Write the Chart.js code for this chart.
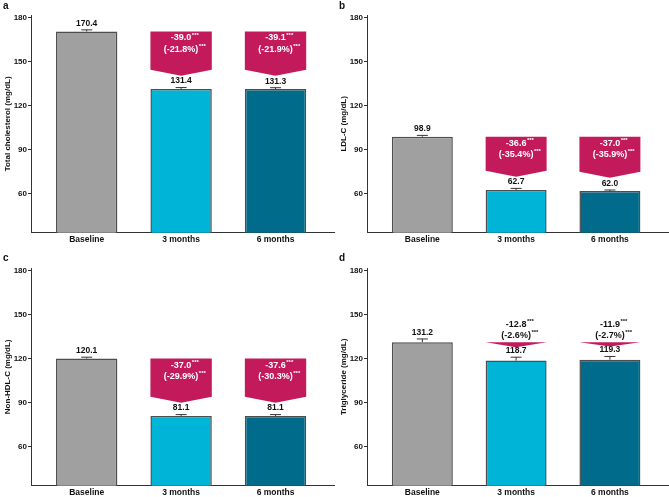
<!DOCTYPE html>
<html>
<head>
<meta charset="utf-8">
<script src="https://cdn.jsdelivr.net/npm/chart.js@4.4.0/dist/chart.umd.min.js"></script>
<style>
  html, body { margin: 0; padding: 0; background: #fff; overflow: hidden; }
  .panel { position: absolute; width: 335px; height: 250px; }
  .letter { position: absolute; font: bold 10px "Liberation Sans", Arial, sans-serif; color: #111; }
</style>
</head>
<body>
<div class="panel" style="left:0;top:0"><canvas id="chartA" width="335" height="250"></canvas></div>
<div class="panel" style="left:336px;top:0"><canvas id="chartB" width="333" height="250"></canvas></div>
<div class="panel" style="left:0;top:253px"><canvas id="chartC" width="335" height="250"></canvas></div>
<div class="panel" style="left:336px;top:253px"><canvas id="chartD" width="333" height="250"></canvas></div>
<div class="letter" style="left:3px;top:0">a</div>
<div class="letter" style="left:339px;top:0">b</div>
<div class="letter" style="left:3px;top:252px">c</div>
<div class="letter" style="left:339px;top:252px">d</div>
<script>
// Datos
const categories = ['Baseline', '3 months', '6 months'];
const yTicks = [60, 90, 120, 150, 180];

const totalCholesterol = [170.4, 131.4, 131.3];
const totalCholesterolSE = [1.1, 0.9, 0.9];
const totalCholesterolChange = ['-39.0', '-39.1'];
const totalCholesterolPct = ['-21.8%', '-21.9%'];

const ldlC = [98.9, 62.7, 62.0];
const ldlCSE = [0.9, 1.1, 0.7];
const ldlCChange = ['-36.6', '-37.0'];
const ldlCPct = ['-35.4%', '-35.9%'];

const nonHdlC = [120.1, 81.1, 81.1];
const nonHdlCSE = [0.9, 0.9, 0.9];
const nonHdlCChange = ['-37.0', '-37.6'];
const nonHdlCPct = ['-29.9%', '-30.3%'];

const triglyceride = [131.2, 118.7, 119.3];
const triglycerideSE = [2.2, 2.3, 2.2];
const triglycerideChange = ['-12.8', '-11.9'];
const triglyceridePct = ['-2.6%', '-2.7%'];

const FONT = '"Liberation Sans", Arial, sans-serif';
const barColors = ['#a0a0a0', '#00b4d8', '#006b8b'];
const magenta = '#c31a5b';

// texto con superíndice ***
function drawStarred(ctx, text, x, y, color) {
    ctx.font = 'bold 9px ' + FONT;
    ctx.fillStyle = color;
    ctx.textAlign = 'center';
    ctx.textBaseline = 'middle';
    const w = ctx.measureText(text).width;
    ctx.fillText(text, x, y);
    ctx.font = 'bold 6px ' + FONT;
    ctx.textAlign = 'left';
    ctx.fillText('***', x + w / 2 + 0.5, y - 3);
}

const barExtras = {
    id: 'barExtras',
    afterDatasetsDraw(chart) {
        const ctx = chart.ctx;
        const y = chart.scales.y;
        const p = chart.options.plugins.barExtras;
        const meta = chart.getDatasetMeta(0);
        const baseY = y.getPixelForValue(p.values[0]);

        // Flechas de cambio respecto a baseline
        [1, 2].forEach(i => {
            const bar = meta.data[i];
            const half = bar.width / 2;
            const tip = y.getPixelForValue(p.values[i] + 9);
            const shoulder = Math.max(baseY, tip - 6);
            ctx.save();
            ctx.fillStyle = magenta;
            ctx.beginPath();
            ctx.moveTo(bar.x - half, baseY);
            ctx.lineTo(bar.x + half, baseY);
            ctx.lineTo(bar.x + half, shoulder);
            ctx.lineTo(bar.x, tip);
            ctx.lineTo(bar.x - half, shoulder);
            ctx.closePath();
            ctx.fill();
            const inside = tip - baseY > 30;
            const y1 = inside ? baseY + 6.5 : baseY - 18;
            const color = inside ? '#ffffff' : '#111111';
            drawStarred(ctx, p.change[i - 1], bar.x, y1, color);
            drawStarred(ctx, '(' + p.pct[i - 1] + ')', bar.x, y1 + 11.5, color);
            ctx.restore();
        });

        // Barras de error y etiquetas de valor
        meta.data.forEach((bar, i) => {
            const v = p.values[i];
            const top = y.getPixelForValue(v + p.se[i]);
            ctx.save();
            ctx.strokeStyle = '#333';
            ctx.lineWidth = 1;
            ctx.beginPath();
            ctx.moveTo(bar.x, bar.y);
            ctx.lineTo(bar.x, top);
            ctx.moveTo(bar.x - 5.5, top);
            ctx.lineTo(bar.x + 5.5, top);
            ctx.stroke();
            ctx.font = 'bold 8.5px ' + FONT;
            ctx.fillStyle = '#111';
            ctx.textAlign = 'center';
            ctx.textBaseline = 'middle';
            ctx.fillText(v.toFixed(1), bar.x, top - 6.5);
            ctx.restore();
        });
    }
};

function drawPanel(id, title, values, se, change, pct) {
    const ctx = document.getElementById(id);
    return new Chart(ctx, {
        type: 'bar',
        data: {
            datasets: [{
                data: values.map((v, i) => ({ x: i + 1, y: v })),
                backgroundColor: barColors,
                borderColor: '#4d4d4d',
                borderWidth: 1.5,
                borderSkipped: 'start',
                barPercentage: 0.65,
                categoryPercentage: 1
            }]
        },
        plugins: [barExtras],
        options: {
            responsive: false,
            animation: false,
            devicePixelRatio: 1,
            layout: { padding: { top: 15, left: 0, right: 0, bottom: 0 } },
            scales: {
                x: {
                    type: 'linear',
                    offset: false,
                    min: 0.41,
                    max: 3.63,
                    afterBuildTicks: axis => { axis.ticks = [1, 2, 3].map(v => ({ value: v })); },
                    afterFit: axis => { axis.height = 17.3; },
                    ticks: {
                        callback: v => categories[v - 1],
                        font: { family: FONT, size: 8.5, weight: 'bold' },
                        color: '#111',
                        padding: 2,
                        maxRotation: 0
                    },
                    grid: { offset: false, drawOnChartArea: false, drawTicks: false },
                    border: { display: true, color: '#333', width: 1 }
                },
                y: {
                    min: 33.7,
                    max: 181.6,
                    afterBuildTicks: axis => { axis.ticks = yTicks.map(v => ({ value: v })); },
                    afterFit: axis => { axis.width = 31; },
                    ticks: {
                        font: { family: FONT, size: 8, weight: 'bold' },
                        color: '#111',
                        padding: 1
                    },
                    grid: { drawOnChartArea: false, drawTicks: true, tickLength: 3, color: '#333' },
                    border: { display: true, color: '#333', width: 1 },
                    title: {
                        display: true,
                        text: title,
                        font: { family: FONT, size: 8, weight: 'bold' },
                        color: '#111',
                        padding: { top: 2.5, bottom: 0 }
                    }
                }
            },
            plugins: {
                legend: { display: false },
                tooltip: { enabled: false },
                barExtras: { values: values, se: se, change: change, pct: pct }
            }
        }
    });
}

drawPanel('chartA', 'Total cholesterol (mg/dL)', totalCholesterol, totalCholesterolSE, totalCholesterolChange, totalCholesterolPct);
drawPanel('chartB', 'LDL-C (mg/dL)', ldlC, ldlCSE, ldlCChange, ldlCPct);
drawPanel('chartC', 'Non-HDL-C (mg/dL)', nonHdlC, nonHdlCSE, nonHdlCChange, nonHdlCPct);
drawPanel('chartD', 'Triglyceride (mg/dL)', triglyceride, triglycerideSE, triglycerideChange, triglyceridePct);
</script>
</body>
</html>
